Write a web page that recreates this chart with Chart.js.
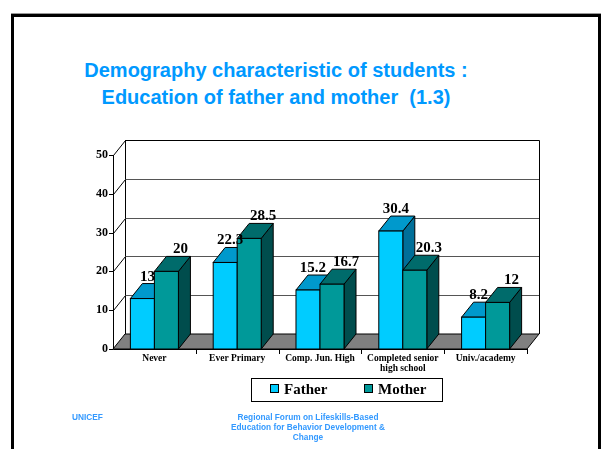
<!DOCTYPE html>
<html lang="en">
<head>
    <meta charset="UTF-8">
    <title>Demography characteristic of students</title>
    <script src="https://cdn.jsdelivr.net/npm/chart.js"></script>
    <style>
        body {
            margin: 0;
            width: 603px;
            height: 449px;
            background: #ffffff;
            position: relative;
            overflow: hidden;
            font-family: "Liberation Sans", Arial, sans-serif;
        }
        #frame {
            position: absolute;
            left: 11px;
            top: 14px;
            width: 584px;
            height: 460px;
            border: 3px solid #000;
            box-shadow: 0 -1px 0 #999;
        }
        #title {
            position: absolute;
            left: 176px;
            width: 200px;
            top: 57px;
            white-space: nowrap;
            display: flex;
            flex-direction: column;
            align-items: center;
            color: #0099ff;
            font-family: "Liberation Sans", Arial, sans-serif;
            font-weight: bold;
            font-size: 20px;
            line-height: 27px;
        }
        #chartBox {
            position: absolute;
            left: 0;
            top: 0;
        }
        #legend {
            position: absolute;
            left: 251px;
            top: 378px;
            width: 190px;
            height: 22px;
            border: 1px solid #000;
            font-family: "Liberation Serif", serif;
            font-weight: bold;
            font-size: 15px;
        }
        #legend span.item {
            position: absolute;
            top: 2px;
        }
        #legend i {
            display: inline-block;
            width: 7px;
            height: 7px;
            border: 1px solid #000;
            margin-right: 5px;
            vertical-align: 1px;
        }
        .foot {
            position: absolute;
            color: #3399ff;
            font-family: "Liberation Sans", Arial, sans-serif;
            font-weight: bold;
            font-size: 8.3px;
            line-height: 10px;
        }
    </style>
</head>
<body>

<div id="frame"></div>
<div id="title"><span>Demography characteristic of students :</span><span>Education of father and mother&nbsp; (1.3)</span></div>
<div id="chartBox"><canvas id="eduChart" width="603" height="449"></canvas></div>
<div id="legend"></div>
<div class="foot" style="left:72px; top:412px;">UNICEF</div>
<div class="foot" style="left:208px; width:200px; top:412px; text-align:center;">Regional Forum on Lifeskills-Based<br>Education for Behavior Development &amp;<br>Change</div>

<script>
    // data
    const categories = ['Never', 'Ever Primary', 'Comp. Jun. High', ['Completed senior', 'high school'], 'Univ./academy'];
    const father = [13, 22.3, 15.2, 30.4, 8.2];
    const mother = [20, 28.5, 16.7, 20.3, 12];
    const seriesNames = ['Father', 'Mother'];
    const yTicks = [0, 10, 20, 30, 40, 50];

    // colours: front, top, side
    const faceColors = [
        ['#00ccff', '#0099cc', '#006f99'],
        ['#009999', '#006b6b', '#004d4d']
    ];
    const labelShift = [5, 14];
    const DX = 12, DY = 15;

    // legend
    const legendEl = document.getElementById('legend');
    const legendLeft = [18, 112];
    seriesNames.forEach(function(name, i) {
        const s = document.createElement('span');
        s.className = 'item';
        s.style.left = legendLeft[i] + 'px';
        s.innerHTML = '<i style="background:' + faceColors[i][0] + '"></i>' + name;
        legendEl.appendChild(s);
    });

    // 3D wall, floor and bars
    const box3d = {
        id: 'box3d',
        beforeDatasetsDraw(chart) {
            const ctx = chart.ctx;
            const x = chart.scales.x, y = chart.scales.y;
            const L = chart.chartArea.left, R = chart.chartArea.right;
            const top = y.getPixelForValue(yTicks[yTicks.length - 1]);
            const base = y.getPixelForValue(0);
            ctx.save();
            ctx.lineWidth = 1;

            // back wall
            ctx.strokeStyle = '#000';
            ctx.beginPath();
            ctx.moveTo(L + DX + 0.5, base - DY);
            ctx.lineTo(L + DX + 0.5, top - DY + 0.5);
            ctx.lineTo(R + DX + 0.5, top - DY + 0.5);
            ctx.lineTo(R + DX + 0.5, base - DY);
            ctx.stroke();

            // grid lines on wall + side wall
            yTicks.forEach(function(v) {
                if (v === 0) return;
                const py = Math.round(y.getPixelForValue(v)) + 0.5;
                ctx.strokeStyle = v === yTicks[yTicks.length - 1] ? '#000' : '#555';
                ctx.beginPath();
                ctx.moveTo(L + DX, py - DY);
                ctx.lineTo(R + DX, py - DY);
                ctx.stroke();
                ctx.strokeStyle = '#000';
                ctx.beginPath();
                ctx.moveTo(L + 0.5, py);
                ctx.lineTo(L + DX + 0.5, py - DY);
                ctx.stroke();
            });

            // floor
            ctx.fillStyle = '#808080';
            ctx.strokeStyle = '#000';
            ctx.beginPath();
            ctx.moveTo(L, base);
            ctx.lineTo(R, base);
            ctx.lineTo(R + DX, base - DY);
            ctx.lineTo(L + DX, base - DY);
            ctx.closePath();
            ctx.fill();
            ctx.stroke();

            // axes
            ctx.strokeStyle = '#000';
            ctx.beginPath();
            ctx.moveTo(L + 0.5, top);
            ctx.lineTo(L + 0.5, base + 0.5);
            ctx.lineTo(R, base + 0.5);
            ctx.stroke();
            yTicks.forEach(function(v) {
                const py = Math.round(y.getPixelForValue(v)) + 0.5;
                ctx.beginPath();
                ctx.moveTo(L - 4, py);
                ctx.lineTo(L, py);
                ctx.stroke();
            });
            const n = categories.length;
            const step = (R - L) / n;
            for (let i = 1; i <= n; i++) {
                const px = Math.round(L + step * i) + 0.5;
                ctx.beginPath();
                ctx.moveTo(px, base);
                ctx.lineTo(px, base + 5);
                ctx.stroke();
            }

            // bars, category by category so faces overlap right
            for (let c = 0; c < n; c++) {
                for (let d = 0; d < chart.data.datasets.length; d++) {
                    const bar = chart.getDatasetMeta(d).data[c];
                    const p = bar.getProps(['x', 'y', 'base', 'width']);
                    const x0 = p.x - p.width / 2, x1 = p.x + p.width / 2;
                    const yt = p.y, yb = p.base;
                    const col = faceColors[d];
                    ctx.strokeStyle = '#000';
                    // side
                    ctx.fillStyle = col[2];
                    ctx.beginPath();
                    ctx.moveTo(x1, yb);
                    ctx.lineTo(x1, yt);
                    ctx.lineTo(x1 + DX, yt - DY);
                    ctx.lineTo(x1 + DX, yb - DY);
                    ctx.closePath();
                    ctx.fill();
                    ctx.stroke();
                    // top
                    ctx.fillStyle = col[1];
                    ctx.beginPath();
                    ctx.moveTo(x0, yt);
                    ctx.lineTo(x1, yt);
                    ctx.lineTo(x1 + DX, yt - DY);
                    ctx.lineTo(x0 + DX, yt - DY);
                    ctx.closePath();
                    ctx.fill();
                    ctx.stroke();
                    // front
                    ctx.fillStyle = col[0];
                    ctx.fillRect(x0, yt, p.width, yb - yt);
                    ctx.strokeRect(x0, yt, p.width, yb - yt);
                }
            }

            // value labels
            ctx.fillStyle = '#000';
            ctx.font = 'bold 15px "Liberation Serif", serif';
            ctx.textAlign = 'center';
            ctx.textBaseline = 'alphabetic';
            chart.data.datasets.forEach(function(ds, d) {
                chart.getDatasetMeta(d).data.forEach(function(bar, i) {
                    ctx.fillText(String(ds.data[i]), bar.x + labelShift[d], bar.y - DY - 3);
                });
            });
            ctx.restore();
        }
    };

    new Chart(document.getElementById('eduChart'), {
        type: 'bar',
        data: {
            labels: categories,
            datasets: [
                { label: seriesNames[0], data: father, backgroundColor: 'rgba(0,0,0,0)' },
                { label: seriesNames[1], data: mother, backgroundColor: 'rgba(0,0,0,0)' }
            ]
        },
        options: {
            responsive: false,
            animation: false,
            events: [],
            layout: { padding: { left: 80, right: 76, top: 155, bottom: 70 } },
            datasets: { bar: { categoryPercentage: 0.58, barPercentage: 1 } },
            plugins: {
                legend: { display: false },
                tooltip: { enabled: false }
            },
            scales: {
                x: {
                    grid: { display: false, drawTicks: false },
                    border: { display: false },
                    ticks: {
                        color: '#000',
                        padding: 4,
                        maxRotation: 0,
                        autoSkip: false,
                        font: { family: '"Liberation Serif", serif', weight: 'bold', size: 9.5, lineHeight: 1.1 }
                    },
                    afterFit: function(scale) { scale.height = 30; }
                },
                y: {
                    min: 0,
                    max: 50,
                    grid: { display: false, drawTicks: false },
                    border: { display: false },
                    ticks: {
                        stepSize: 10,
                        color: '#000',
                        padding: 5,
                        font: { family: '"Liberation Serif", serif', weight: 'bold', size: 12 }
                    },
                    afterFit: function(scale) { scale.width = 33; }
                }
            }
        },
        plugins: [box3d]
    });
</script>

</body>
</html>
